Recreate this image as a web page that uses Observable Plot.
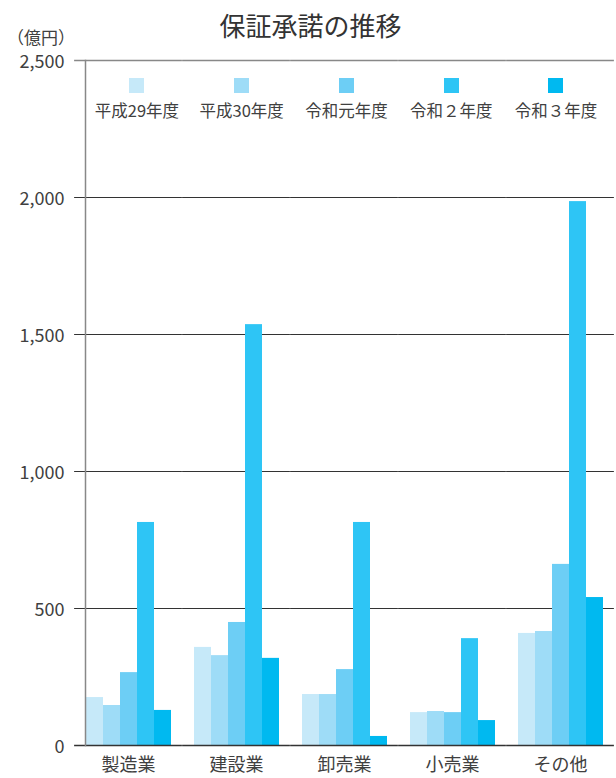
<!DOCTYPE html>
<html><head><meta charset="utf-8">
<script src="https://cdn.jsdelivr.net/npm/d3@7"></script>
<script src="https://cdn.jsdelivr.net/npm/@observablehq/plot@0.6"></script>
<style>
body{margin:0;background:#fff;font-family:"Noto Sans CJK JP","Noto Sans",sans-serif;color:#404040}
#wrap{position:relative;width:616px;height:778px;overflow:hidden}
#chart{position:absolute;left:0;top:0}
#title{position:absolute;left:0;width:621px;top:8px;text-align:center;font-size:26px;line-height:34px;color:#333}
#unit{position:absolute;left:7px;width:68px;top:26px;text-align:center;font-size:17px;line-height:22px;color:#404040}
#legend{position:absolute;left:84.6px;top:78px;display:flex}
.item{width:104.75px;display:flex;flex-direction:column;align-items:center}
.sw{width:15px;height:15px}
.lb{font-size:16.5px;line-height:20px;margin-top:7px;white-space:nowrap;color:#404040}
</style>
</head><body>
<div id="wrap">
  <div id="chart"></div>
  <div id="title">保証承諾の推移</div>
  <div id="unit">（億円）</div>
  <div id="legend"></div>
</div>
<script>
const categories = ["製造業", "建設業", "卸売業", "小売業", "その他"];
const years = ["平成29年度", "平成30年度", "令和元年度", "令和２年度", "令和３年度"];
const colors = ["#c6e9f9", "#9edcf7", "#6dcef5", "#2ec5f5", "#00b9f0"];
const h29 = [175, 358, 186, 120, 409];
const h30 = [146, 328, 186, 124, 416];
const r1 = [266, 449, 277, 120, 661];
const r2 = [814, 1536, 814, 390, 1985];
const r3 = [128, 318, 33, 91, 540];
const yTicks = [0, 500, 1000, 1500, 2000, 2500];

const series = [h29, h30, r1, r2, r3];
const rows = [];
categories.forEach((c, i) => {
  years.forEach((y, j) => rows.push({category: c, year: y, value: series[j][i]}));
});

const font = '"Noto Sans CJK JP","Noto Sans",sans-serif';
const ext = -10.9; // extend per-facet rules across the gaps between groups
const chart = Plot.plot({
  width: 616, height: 778,
  marginTop: 60, marginBottom: 33, marginLeft: 73, marginRight: 0,
  style: {fontFamily: font, fontSize: "18px", color: "#404040", background: "transparent"},
  fx: {domain: categories, paddingInner: 0.2, paddingOuter: 0.1, label: null},
  x: {domain: years, padding: 0},
  y: {domain: [0, 2500]},
  color: {domain: years, range: colors},
  marks: [
    Plot.ruleY(yTicks.slice(1, -1), {stroke: "#333", strokeWidth: 1, insetLeft: ext, insetRight: ext}),
    Plot.ruleY([2500], {stroke: "#888", strokeWidth: 1.5, insetLeft: ext, insetRight: ext}),
    Plot.barY(rows, {fx: "category", x: "year", y: "value", fill: "year"}),
    Plot.ruleY([0], {stroke: "#333", strokeWidth: 1.5, insetLeft: ext, insetRight: ext}),
    Plot.frame({anchor: "left", facet: "super", stroke: "#888", strokeWidth: 1.5}),
    Plot.axisY({ticks: yTicks, tickSize: 0, tickPadding: 21, dy: 2, tickFormat: d3.format(","), fontSize: 18, fill: "#404040", label: null}),
    Plot.axisX({ticks: [], label: null}),
    Plot.axisFx({anchor: "bottom", tickSize: 0, tickPadding: 13, fontSize: 18, fill: "#404040", label: null})
  ]
});
document.getElementById("chart").append(chart);

const legend = document.getElementById("legend");
years.forEach((y, j) => {
  const it = document.createElement("div");
  it.className = "item";
  const sw = document.createElement("div");
  sw.className = "sw";
  sw.style.background = colors[j];
  const lb = document.createElement("div");
  lb.className = "lb";
  lb.textContent = y;
  it.append(sw, lb);
  legend.append(it);
});
</script>
</body></html>
